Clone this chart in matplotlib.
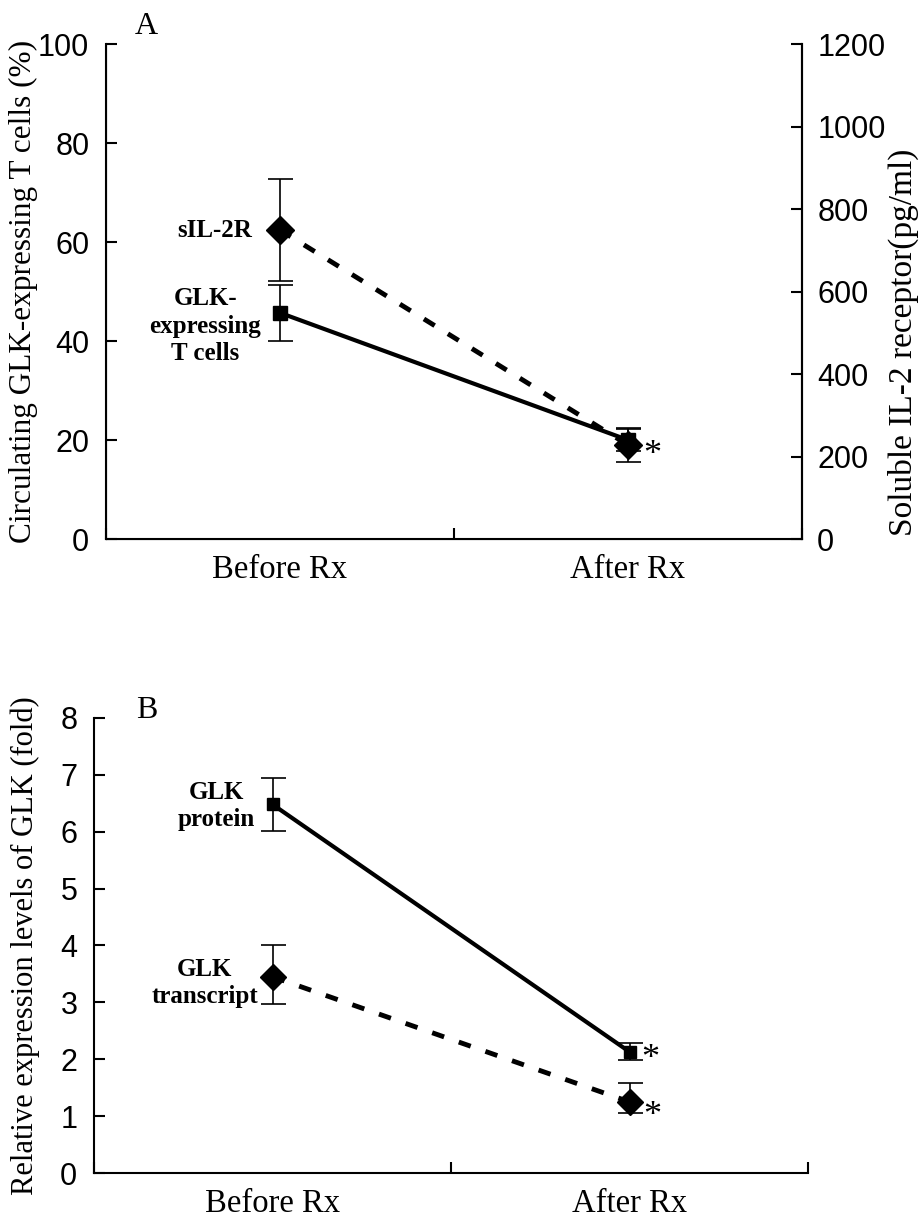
import matplotlib
matplotlib.use("Agg")
import matplotlib.pyplot as plt

plt.rcParams["font.family"] = ["Liberation Serif", "DejaVu Serif"]

# ─── данные ───────────────────────────────────────────────────────────────────
groups = ["Before Rx", "After Rx"]
x_pos = [0, 1]

# панель A
glk_tcells = [45.7, 20.0]          # %
glk_tcells_err = [5.7, 2.2]
sil2r = [749, 228]                 # pg/ml
sil2r_err = [124, 42]

# панель B
glk_protein = [6.48, 2.13]
glk_protein_err = [0.47, 0.15]
glk_transcript = [3.45, 1.25]
glk_transcript_err_lo = [0.47, 0.20]
glk_transcript_err_hi = [0.55, 0.33]

left_ticks_a = [0, 20, 40, 60, 80, 100]
right_ticks_a = [0, 200, 400, 600, 800, 1000, 1200]
ticks_b = [0, 1, 2, 3, 4, 5, 6, 7, 8]

SANS = "Liberation Sans"
TICK_FS = 22
XLBL_FS = 23.5
YLBL_FS = 22.5
TAG_FS = 18
DASH = (0, (2.6, 3.2))


def style_x(ax, pad):
    ax.set_xlim(-0.5, 1.5)
    ax.set_xticks([-0.5, 0.5, 1.5])
    ax.set_xticklabels([])
    ax.set_xticks(x_pos, minor=True)
    ax.set_xticklabels(groups, minor=True, fontsize=XLBL_FS)
    ax.tick_params(axis="x", which="major", direction="in", length=8, width=1.5)
    ax.tick_params(axis="x", which="minor", length=0, pad=pad)
    ax.spines["top"].set_visible(False)
    for s in ax.spines.values():
        s.set_linewidth(1.5)


def sans_ticks(ax):
    for lab in ax.get_yticklabels():
        lab.set_fontfamily(SANS)


fig = plt.figure(figsize=(9.2, 12.17), dpi=100)

# ─── панель A ─────────────────────────────────────────────────────────────────
ax = fig.add_axes([0.1152, 0.5571, 0.7565, 0.4067])
ax2 = ax.twinx()

ax.set_ylim(0, 100)
ax.set_yticks(left_ticks_a)
ax.tick_params(axis="y", direction="in", length=8, width=1.5, labelsize=TICK_FS, pad=12)
style_x(ax, pad=11)
sans_ticks(ax)

ax2.set_ylim(0, 1200)
ax2.set_yticks(right_ticks_a)
ax2.tick_params(axis="y", direction="in", length=8, width=1.5, labelsize=TICK_FS, pad=11)
ax2.spines["top"].set_visible(False)
ax2.spines["right"].set_linewidth(1.5)
sans_ticks(ax2)

ax.errorbar(x_pos, glk_tcells, yerr=glk_tcells_err, color="black", lw=3,
            marker="s", ms=10, elinewidth=1.2, capsize=9, capthick=1.2)
ax2.errorbar(x_pos, sil2r, yerr=sil2r_err, color="black", lw=3.5, ls=DASH,
             marker="D", ms=14, elinewidth=1.2, capsize=9, capthick=1.2)

ax.set_ylabel("Circulating GLK-expressing T cells (%)", fontsize=YLBL_FS)
ax.yaxis.set_label_coords(-0.097, 0.5)
ax2.set_ylabel("Soluble IL-2 receptor(pg/ml)", fontsize=24)
ax2.yaxis.set_label_coords(1.124, 0.398)

ax.text(-0.08, 62.4, "sIL-2R", ha="right", va="center", fontsize=TAG_FS, fontweight="bold")
ax.text(-0.215, 43.0, "GLK-\nexpressing\nT cells", ha="center", va="center",
        fontsize=TAG_FS, fontweight="bold", linespacing=1.25)
ax.text(1.07, 16.8, "*", ha="center", va="center", fontsize=26)
fig.text(146 / 920, 1 - 27 / 1217, "A", ha="center", va="center", fontsize=23)

# ─── панель B ─────────────────────────────────────────────────────────────────
bx = fig.add_axes([0.1022, 0.03615, 0.7761, 0.3739])
bx.set_ylim(0, 8)
bx.set_yticks(ticks_b)
bx.tick_params(axis="y", direction="in", length=8, width=1.5, labelsize=TICK_FS, pad=12)
style_x(bx, pad=11)
bx.spines["right"].set_visible(False)
sans_ticks(bx)

bx.errorbar(x_pos, glk_protein, yerr=glk_protein_err, color="black", lw=3,
            marker="s", ms=8, elinewidth=1.2, capsize=9, capthick=1.2)
bx.errorbar(x_pos, glk_transcript, yerr=[glk_transcript_err_lo, glk_transcript_err_hi],
            color="black", lw=3.5, ls=DASH, marker="D", ms=13,
            elinewidth=1.2, capsize=9, capthick=1.2)

bx.set_ylabel("Relative expression levels of GLK (fold)", fontsize=22)
bx.yaxis.set_label_coords(-0.0756, 0.5)

bx.text(-0.158, 6.45, "GLK\nprotein", ha="center", va="center",
        fontsize=TAG_FS, fontweight="bold", linespacing=1.25)
bx.text(-0.19, 3.34, "GLK\ntranscript", ha="center", va="center",
        fontsize=TAG_FS, fontweight="bold", linespacing=1.25)
bx.text(1.057, 2.0, "*", ha="center", va="center", fontsize=26)
bx.text(1.063, 1.0, "*", ha="center", va="center", fontsize=26)
fig.text(147 / 920, 1 - 710 / 1217, "B", ha="center", va="center", fontsize=23)

fig.savefig("out.png", dpi=100)
